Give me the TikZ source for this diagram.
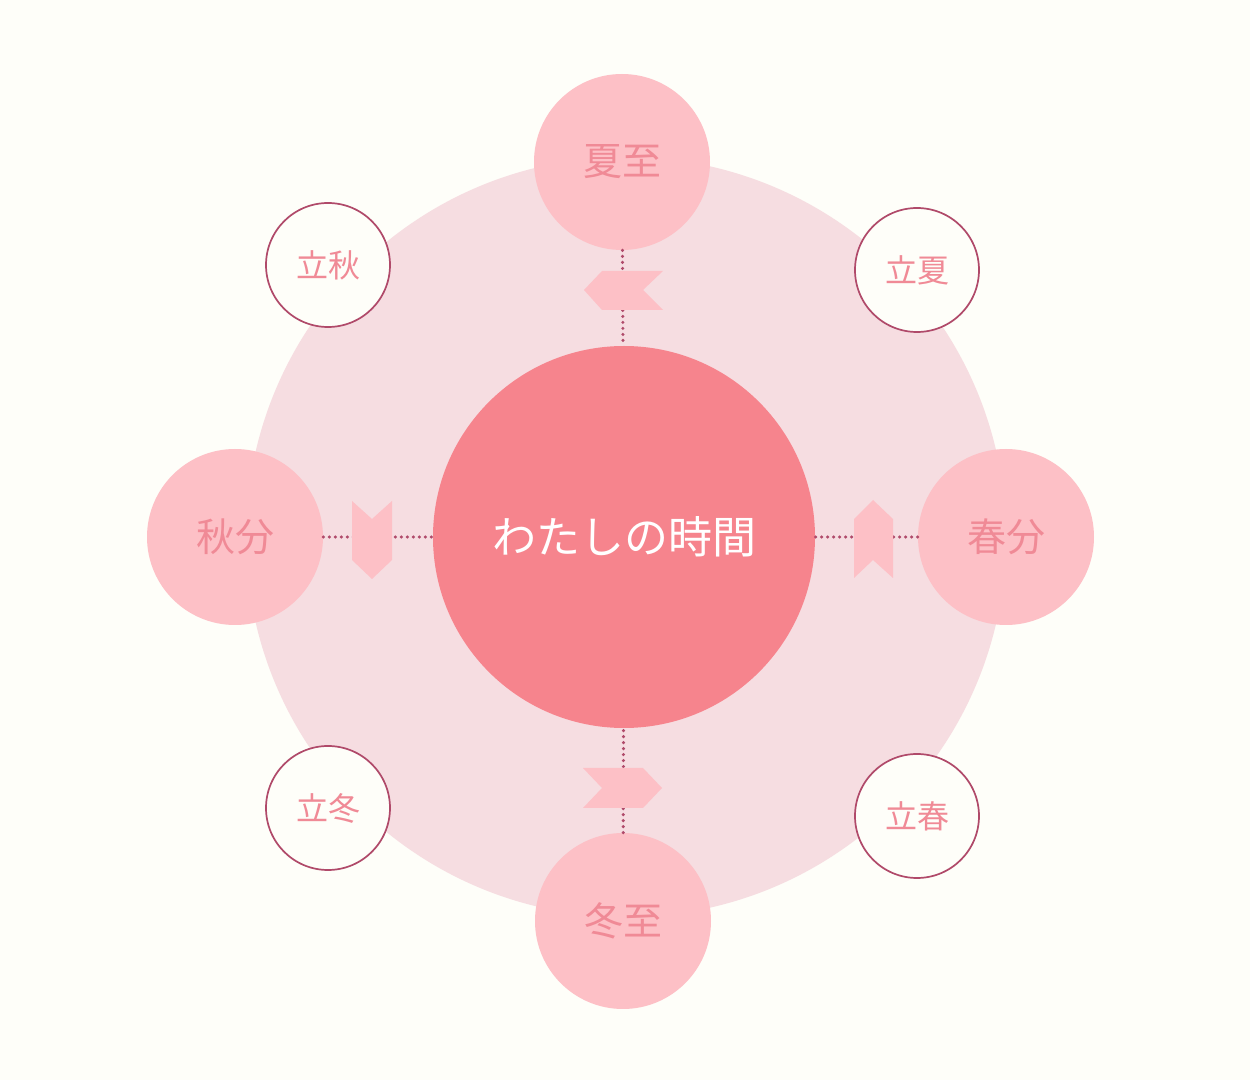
\documentclass[tikz,border=0pt]{standalone}
\usepackage{fontspec}
\newfontfamily\jpfont{Noto Sans CJK JP}
\usepackage{tikz}

\definecolor{paper}{HTML}{FEFEF9}
\definecolor{ringpink}{HTML}{F6DDE1}
\definecolor{corepink}{HTML}{F6848D}
\definecolor{seasonpink}{HTML}{FDC0C6}
\definecolor{labelpink}{HTML}{F08A96}
\definecolor{dotrose}{HTML}{B04A6A}

\tikzset{
  season/.style={circle, fill=seasonpink, minimum size=88pt, inner sep=0pt,
    text=labelpink, font=\jpfont\fontsize{19.5}{20}\selectfont},
  minor/.style={circle, draw=dotrose, line width=0.85pt, fill=paper,
    minimum size=62pt, inner sep=0pt, text=labelpink,
    font=\jpfont\fontsize{16}{17}\selectfont},
  dotline/.style={dotrose, line width=1.7pt, line cap=round,
    dash pattern=on 0pt off 3pt},
  chevron/.style={fill=seasonpink}
}

\begin{document}
\begin{tikzpicture}[x=0.5pt, y=-0.5pt]
\useasboundingbox[fill=paper] (0,0) rectangle (1250,1080);
\node[circle, fill=ringpink, minimum size=380pt, inner sep=0pt] (ring) at (626,537) {};

\node[circle, fill=corepink, minimum size=191pt, inner sep=0pt, text=white,
  font=\jpfont\fontsize{22}{23}\selectfont] (core) at (624,537) {わたしの時間};

\node[season] (summer) at (622,162) {夏至};
\node[season] (winter) at (623,921) {冬至};
\node[season] (autumn) at (235,537) {秋分};
\node[season] (spring) at (1006,537) {春分};

\node[minor] (lautumn) at (328,265) {立秋};
\node[minor] (lsummer) at (917,270) {立夏};
\node[minor] (lwinter) at (328,808) {立冬};
\node[minor] (lspring) at (917,816) {立春};

% dotted links between the seasons and the centre
\draw[dotline] (summer) -- (core);
\draw[dotline] (winter) -- (core);
\draw[dotline] (autumn) -- (core);
\draw[dotline] (spring) -- (core);

% chevrons
\fill[chevron] (584,290) -- (602,271) -- (663,271) -- (643,290) -- (663,310) -- (602,310) -- cycle;
\fill[chevron] (583,768) -- (643,768) -- (662,788) -- (643,808) -- (583,808) -- (602,788) -- cycle;
\fill[chevron] (352,501) -- (372,519) -- (392,501) -- (392,560) -- (372,579) -- (352,560) -- cycle;
\fill[chevron] (854,519) -- (873,500) -- (893,519) -- (893,578) -- (873,560) -- (854,578) -- cycle;
\end{tikzpicture}
\end{document}
